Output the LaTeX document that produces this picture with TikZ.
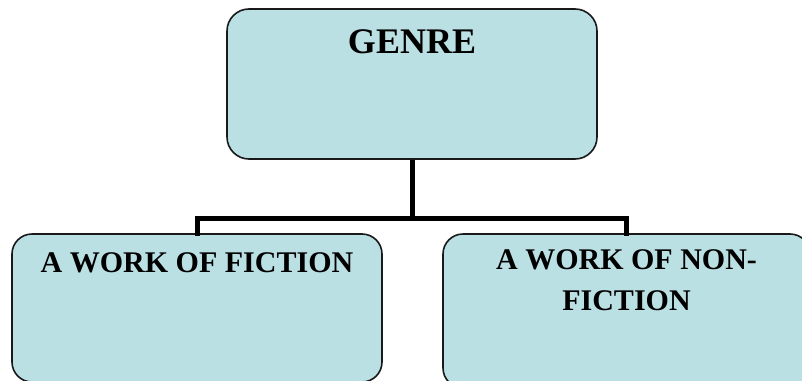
\documentclass[tikz,border=0pt]{standalone}
\usepackage{fontspec}
\setmainfont{Liberation Serif}
\definecolor{boxfill}{RGB}{186,224,228}
\begin{document}
\begin{tikzpicture}[x=1pt,y=-1pt,
  box/.style={draw=black!90, line width=1.6pt, fill=boxfill, rounded corners=22pt, inner sep=0pt},
  lbl/.style={font=\bfseries\fontsize{30}{41}\selectfont, align=center, inner sep=0pt, anchor=base},
  conn/.style={line width=5pt, black}]
\useasboundingbox (0,0) rectangle (802,380);
% boxes
\node[box, minimum width=370pt, minimum height=150pt] (genre) at (412,84) {};
\node[box, minimum width=370pt, minimum height=148pt, rounded corners=20pt] (fiction) at (197,308) {};
\node[box, minimum width=367pt, minimum height=154pt, rounded corners=20pt] (nonfiction) at (626.5,311) {};
% texts
\node[lbl, font=\bfseries\fontsize{36}{40}\selectfont] (tg) at (412,53) {GENRE};
\node[lbl] (tf) at (197,272) {A WORK OF FICTION};
\node[lbl] (tn1) at (626.5,269) {A WORK OF NON-};
\node[lbl] (tn2) at (626.5,310) {FICTION};
% connectors
\coordinate (j) at (412,218);
\draw[conn] (genre.south) -- (j);
\draw[conn, line cap=rect] (fiction.north) -- (fiction.north |- j) -- (nonfiction.north |- j) -- (nonfiction.north);
\end{tikzpicture}
\end{document}
